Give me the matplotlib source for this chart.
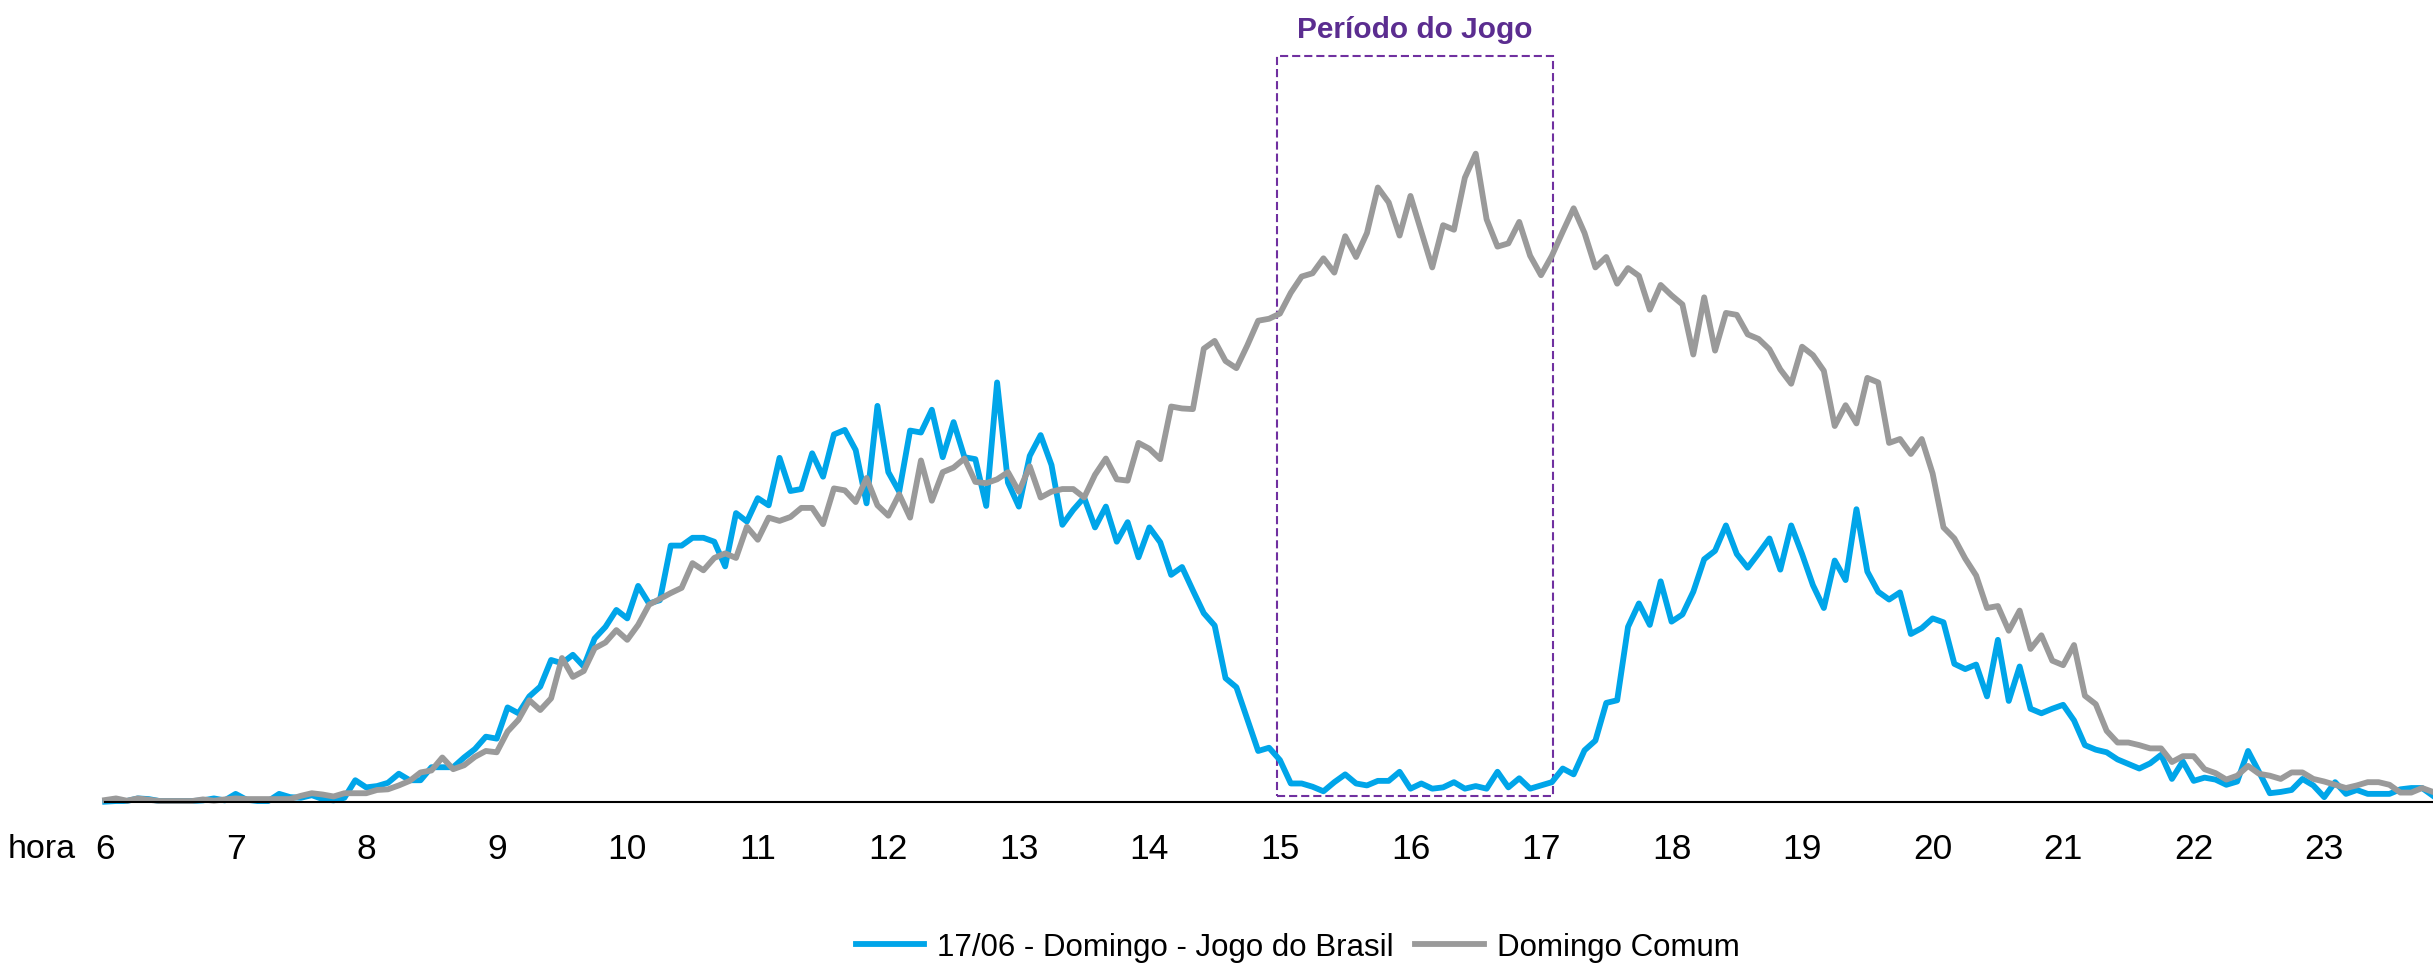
from __future__ import annotations

import matplotlib

matplotlib.use("Agg")

import matplotlib.pyplot as plt
import numpy as np
from matplotlib.patches import Rectangle

# 5-minute samples from 06:00 onwards, one row per hour
BRASIL_GAME_SUNDAY = [
    0.0, 0.1, 0.1, 0.5, 0.4, 0.1, 0.1, 0.1, 0.1, 0.2, 0.5, 0.2,
    1.2, 0.3, 0.1, 0.1, 1.2, 0.7, 0.6, 1.0, 0.4, 0.2, 0.6, 3.3,
    2.2, 2.4, 2.9, 4.3, 3.3, 3.3, 5.3, 5.3, 5.3, 6.8, 8.1, 10.0,
    9.7, 14.5, 13.6, 16.2, 17.7, 21.8, 21.3, 22.6, 20.8, 25.1, 26.9, 29.5,
    28.2, 33.2, 30.5, 31.0, 39.4, 39.4, 40.6, 40.6, 40.0, 36.2, 44.4, 43.1,
    46.7, 45.6, 52.9, 47.8, 48.1, 53.6, 50.0, 56.5, 57.2, 54.1, 45.9, 60.9,
    50.7, 47.7, 57.1, 56.8, 60.3, 53.0, 58.4, 53.0, 52.7, 45.5, 64.5, 49.1,
    45.4, 53.2, 56.4, 51.8, 42.6, 44.9, 46.8, 42.2, 45.4, 40.0, 43.0, 37.6,
    42.2, 39.9, 34.9, 36.1, 32.5, 29.0, 27.1, 19.0, 17.6, 12.7, 7.8, 8.3,
    6.4, 2.8, 2.8, 2.3, 1.6, 3.0, 4.2, 2.8, 2.5, 3.2, 3.2, 4.6,
    2.0, 2.8, 2.0, 2.2, 3.0, 2.0, 2.4, 2.0, 4.6, 2.2, 3.6, 2.0,
    2.5, 3.0, 5.1, 4.2, 7.9, 9.4, 15.2, 15.6, 26.9, 30.5, 27.2, 33.9,
    27.7, 28.8, 32.3, 37.3, 38.6, 42.5, 38.1, 36.0, 38.2, 40.5, 35.7, 42.5,
    38.1, 33.3, 29.8, 37.1, 34.1, 45.0, 35.4, 32.3, 31.1, 32.2, 25.8, 26.7,
    28.2, 27.6, 21.2, 20.4, 21.1, 16.2, 24.9, 15.5, 20.8, 14.3, 13.6, 14.3,
    14.9, 12.5, 8.7, 8.0, 7.6, 6.5, 5.8, 5.1, 5.9, 7.2, 3.5, 6.2,
    3.2, 3.7, 3.4, 2.6, 3.1, 7.8, 4.6, 1.3, 1.5, 1.8, 3.5, 2.5,
    0.7, 3.0, 1.2, 1.8, 1.2, 1.2, 1.2, 1.9, 2.1, 2.1, 0.9,
]
REGULAR_SUNDAY = [
    0.25, 0.5, 0.15, 0.5, 0.3, 0.1, 0.1, 0.1, 0.1, 0.35, 0.15, 0.35,
    0.5, 0.4, 0.4, 0.4, 0.4, 0.4, 0.9, 1.3, 1.1, 0.8, 1.3, 1.3,
    1.3, 1.8, 1.9, 2.5, 3.2, 4.5, 4.8, 6.8, 5.0, 5.6, 6.9, 7.8,
    7.6, 10.8, 12.6, 15.6, 14.1, 15.9, 22.1, 19.2, 20.1, 23.6, 24.5, 26.4,
    24.9, 27.2, 30.3, 31.2, 32.1, 32.9, 36.7, 35.6, 37.5, 38.2, 37.5, 42.3,
    40.3, 43.7, 43.2, 43.8, 45.2, 45.2, 42.7, 48.2, 47.9, 46.1, 49.8, 45.6,
    44.0, 47.3, 43.7, 52.5, 46.3, 50.7, 51.4, 52.8, 49.2, 49.0, 49.6, 50.7,
    47.7, 51.6, 46.8, 47.7, 48.1, 48.1, 46.8, 50.3, 52.8, 49.6, 49.4, 55.2,
    54.3, 52.7, 60.8, 60.5, 60.4, 69.7, 70.9, 67.8, 66.7, 70.2, 74.0, 74.3,
    75.1, 78.3, 80.8, 81.3, 83.6, 81.4, 87.0, 83.8, 87.5, 94.5, 92.2, 87.1,
    93.2, 87.7, 82.2, 88.7, 88.0, 96.0, 99.7, 89.6, 85.4, 85.9, 89.2, 84.0,
    81.0, 84.0, 87.7, 91.3, 87.5, 82.2, 83.8, 79.7, 82.1, 80.9, 75.7, 79.5,
    77.9, 76.5, 68.8, 77.6, 69.4, 75.2, 74.9, 71.9, 71.2, 69.6, 66.5, 64.3,
    70.0, 68.7, 66.3, 57.8, 61.0, 58.2, 65.2, 64.5, 55.2, 55.8, 53.5, 55.8,
    50.5, 42.2, 40.5, 37.4, 34.8, 29.8, 30.1, 26.3, 29.4, 23.5, 25.6, 21.7,
    21.0, 24.1, 16.3, 15.0, 10.9, 9.1, 9.1, 8.7, 8.2, 8.2, 6.1, 7.0,
    7.0, 5.0, 4.4, 3.4, 4.0, 5.5, 4.3, 4.0, 3.5, 4.5, 4.5, 3.5,
    3.1, 2.6, 2.1, 2.5, 3.0, 3.0, 2.6, 1.4, 1.4, 2.1, 1.5,
]
HOUR_TICKS = list(range(6, 24))
SERIES_LABELS = ["17/06 - Domingo - Jogo do Brasil", "Domingo Comum"]
GAME_WINDOW = (14.98, 17.09)
GAME_TITLE = "Período do Jogo"

BLUE = "#00A5E9"
GRAY = "#9A9A9A"
PURPLE = "#7030A0"
TITLE_PURPLE = "#5B2D90"
# no narrow face is installed, so sizes below are trimmed to keep the text widths
FONT = ["Liberation Sans Narrow", "Liberation Sans", "DejaVu Sans"]


def build_figure() -> plt.Figure:
    plt.rcParams["font.family"] = FONT
    hours = 6 + np.arange(len(BRASIL_GAME_SUNDAY)) / 12

    figure = plt.figure(figsize=(24.33, 9.70), dpi=100)
    axis = figure.add_axes([0.0432, 0.1725, 0.9568, 0.8275])

    axis.plot(hours, BRASIL_GAME_SUNDAY, color=BLUE, linewidth=4.2,
              solid_joinstyle="round", clip_on=False, label=SERIES_LABELS[0])
    axis.plot(hours, REGULAR_SUNDAY, color=GRAY, linewidth=4.2,
              solid_joinstyle="round", clip_on=False, label=SERIES_LABELS[1])

    start, end = GAME_WINDOW
    axis.add_patch(Rectangle((start, 0.8), end - start, 113.9, fill=False,
                             edgecolor=PURPLE, linewidth=1.5, linestyle=(0, (3.9, 1.9))))
    axis.text((start + end) / 2, 117.6, GAME_TITLE, ha="center", va="baseline",
              fontsize=21.5, fontweight="bold", color=TITLE_PURPLE)

    axis.set_xlim(6, hours[-1])
    axis.set_ylim(0, 123.5)
    axis.set_xticks(HOUR_TICKS, labels=[str(h) for h in HOUR_TICKS])
    axis.set_yticks([])
    axis.tick_params(axis="x", length=0, pad=22, labelsize=25.5)
    for side in ("top", "right", "left"):
        axis.spines[side].set_visible(False)
    axis.spines["bottom"].set_linewidth(1.5)
    axis.spines["bottom"].set_color("black")

    figure.text(42 / 2433, 0.1150, "hora", ha="center", va="baseline", fontsize=24.5)
    figure.legend(loc="center", bbox_to_anchor=(0.5333, 0.0227), ncol=2, frameon=False,
                  fontsize=22.5, handlelength=2.2, handletextpad=0.4, columnspacing=0.7)
    return figure


def main() -> None:
    figure = build_figure()
    figure.savefig("out.png", dpi=100)
    plt.close(figure)


if __name__ == "__main__":
    main()
